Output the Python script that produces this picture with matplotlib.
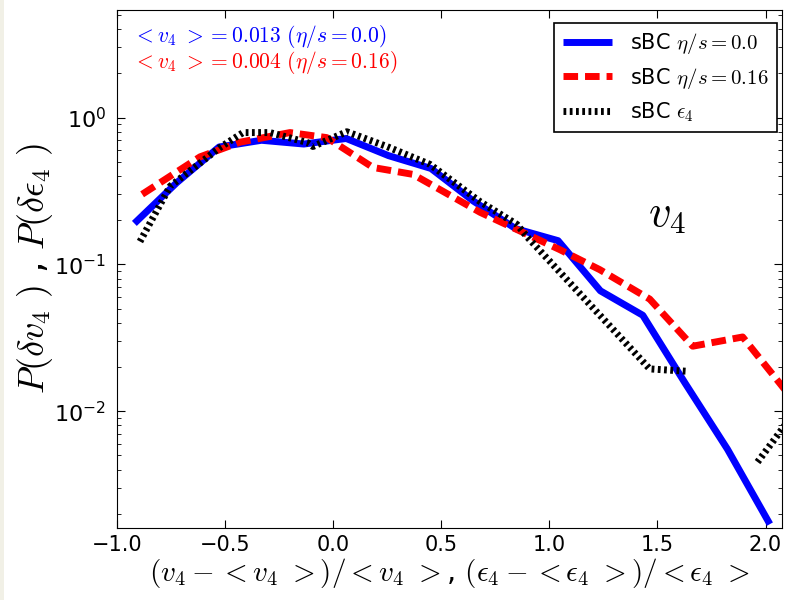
import matplotlib
matplotlib.use('Agg')
import matplotlib.pyplot as plt
from matplotlib.patches import Rectangle
from matplotlib.ticker import FixedLocator, FixedFormatter, LogLocator, NullFormatter
import numpy as np

plt.rcParams['mathtext.fontset'] = 'cm'
plt.rcParams['font.family'] = 'DejaVu Sans'

# sBC eta/s = 0.0
x_ideal = [-0.92, -0.724, -0.528, -0.332, -0.136, 0.06, 0.256, 0.452, 0.648,
           0.844, 1.04, 1.236, 1.432, 1.628, 1.824, 2.02]
p_ideal = [0.19, 0.36, 0.63, 0.70, 0.66, 0.72, 0.55, 0.45, 0.27,
           0.175, 0.145, 0.066, 0.045, 0.0155, 0.0055, 0.0017]

# sBC eta/s = 0.16
x_visc = [-0.884, -0.616, -0.43, -0.2, -0.03, 0.184, 0.369, 0.68, 1.048,
          1.233, 1.464, 1.663, 1.894, 2.1]
p_visc = [0.30, 0.54, 0.68, 0.79, 0.73, 0.457, 0.41, 0.226, 0.126,
          0.092, 0.058, 0.0277, 0.032, 0.0134]

# sBC eps_4 (gap = empty bins)
x_eps = [-0.894, -0.755, -0.524, -0.417, -0.293, -0.12, -0.094, 0.063, 0.248,
         0.447, 0.678, 0.85, 0.895, 1.464, 1.635, 1.80, 1.963, 2.1]
p_eps = [0.143, 0.34, 0.625, 0.79, 0.79, 0.676, 0.635, 0.80, 0.635,
         0.48, 0.268, 0.187, 0.155, 0.0194, 0.0187, np.nan, 0.0045, 0.0084]

ytick_vals = [1e-2, 1e-1, 1e0]
ytick_labels = [r'$\mathregular{10^{-2}}$', r'$\mathregular{10^{-1}}$', r'$\mathregular{10^{0}}$']

fig = plt.figure(figsize=(7.91, 6.0), dpi=100)
ax = fig.add_axes([0.148, 0.12, 0.8406, 0.8633])
fig.patches.append(Rectangle((0, 0), 4 / 791, 1, transform=fig.transFigure,
                             facecolor='#f1f0e6', edgecolor='none'))

ax.plot(x_ideal, p_ideal, color='#0000ff', lw=5, solid_capstyle='butt',
        label=r'sBC $\eta/s=0.0$')
ax.plot(x_visc, p_visc, color='#ff0000', lw=5, linestyle=(0, (2.1, 1.0)),
        dash_capstyle='butt', label=r'sBC $\eta/s=0.16$')
ax.plot(x_eps, p_eps, color='black', lw=5, linestyle=(0, (0.4, 0.5)),
        dash_capstyle='butt', label=r'sBC $\epsilon_4$')

ax.set_yscale('log')
ax.set_xlim(-1.0, 2.076)
ax.set_ylim(0.0016, 5.4)
ax.yaxis.set_major_locator(FixedLocator(ytick_vals))
ax.yaxis.set_major_formatter(FixedFormatter(ytick_labels))
ax.yaxis.set_minor_locator(LogLocator(base=10, subs=np.arange(2, 10)))
ax.yaxis.set_minor_formatter(NullFormatter())
ax.set_xticks([-1.0, -0.5, 0.0, 0.5, 1.0, 1.5, 2.0])

ax.tick_params(which='both', direction='in', top=True, right=True)
ax.tick_params(axis='x', labelsize=15, pad=5)
ax.tick_params(axis='y', labelsize=16, pad=8)
ax.tick_params(which='major', length=6)
ax.tick_params(which='minor', length=3)

ax.set_xlabel(r'$(v_4-{<}v_4\ {>})/{<}v_4\ {>}$, $(\epsilon_4-{<}\epsilon_4\ {>})/{<}\epsilon_4\ {>}$',
              fontsize=21, labelpad=1)
ax.set_ylabel(r'$P(\delta v_4\ )$ , $P(\delta \epsilon_4\ )$', fontsize=26, labelpad=-1)

ax.text(0.024, 0.948, r'$<v_4\ >=0.013\ (\eta/s=0.0)$', color='#0000ff',
        fontsize=15.5, transform=ax.transAxes, va='center')
ax.text(0.024, 0.899, r'$<v_4\ >=0.004\ (\eta/s=0.16)$', color='#ff0000',
        fontsize=15.5, transform=ax.transAxes, va='center')
ax.text(0.827, 0.605, r'$v_4$', fontsize=32, transform=ax.transAxes,
        ha='center', va='center')

leg = ax.legend(loc='upper right', bbox_to_anchor=(0.993, 0.975), fontsize=15,
                fancybox=False, edgecolor='black', framealpha=1,
                handlelength=2.35, handletextpad=0.9, labelspacing=0.45,
                borderaxespad=0)
leg.get_frame().set_linewidth(1.2)

fig.savefig('out.png', dpi=100)
